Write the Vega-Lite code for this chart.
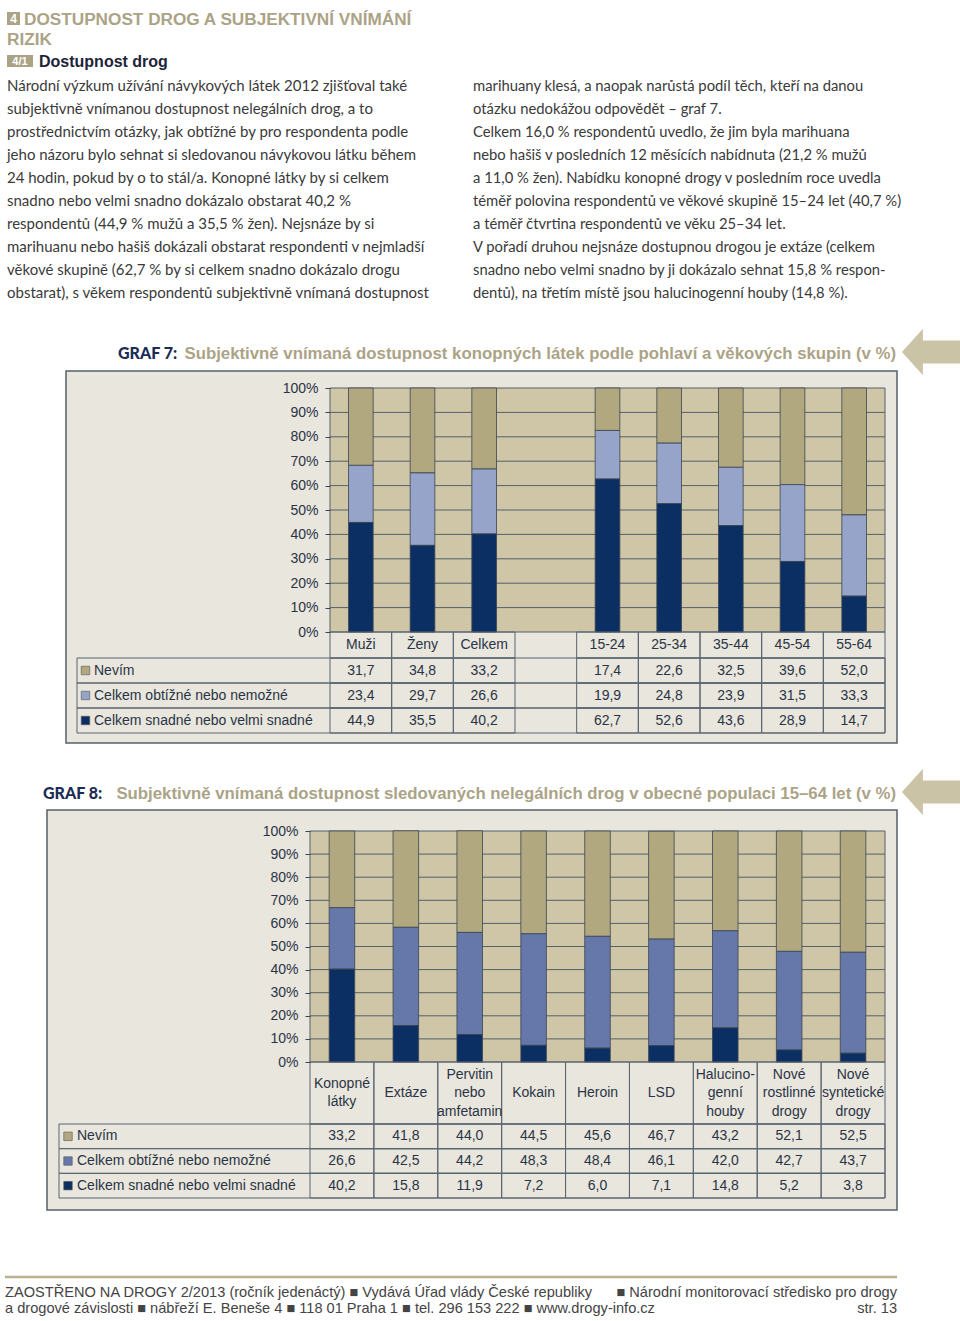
{
  "$schema": "https://vega.github.io/schema/vega-lite/v6.json",
  "width": 960,
  "height": 1321,
  "autosize": {"type": "none"},
  "padding": 0,
  "background": "white",
  "config": {
    "view": {"stroke": null},
    "locale": {"number": {"decimal": ",", "thousands": " ", "grouping": [3], "currency": ["", " Kč"]}}
  },
  "datasets": {
    "g7": [
      {"cat": "Muži", "serie": "Nevím", "value": 31.7},
      {"cat": "Muži", "serie": "Celkem obtížné nebo nemožné", "value": 23.4},
      {"cat": "Muži", "serie": "Celkem snadné nebo velmi snadné", "value": 44.9},
      {"cat": "Ženy", "serie": "Nevím", "value": 34.8},
      {"cat": "Ženy", "serie": "Celkem obtížné nebo nemožné", "value": 29.7},
      {"cat": "Ženy", "serie": "Celkem snadné nebo velmi snadné", "value": 35.5},
      {"cat": "Celkem", "serie": "Nevím", "value": 33.2},
      {"cat": "Celkem", "serie": "Celkem obtížné nebo nemožné", "value": 26.6},
      {"cat": "Celkem", "serie": "Celkem snadné nebo velmi snadné", "value": 40.2},
      {"cat": "15-24", "serie": "Nevím", "value": 17.4},
      {"cat": "15-24", "serie": "Celkem obtížné nebo nemožné", "value": 19.9},
      {"cat": "15-24", "serie": "Celkem snadné nebo velmi snadné", "value": 62.7},
      {"cat": "25-34", "serie": "Nevím", "value": 22.6},
      {"cat": "25-34", "serie": "Celkem obtížné nebo nemožné", "value": 24.8},
      {"cat": "25-34", "serie": "Celkem snadné nebo velmi snadné", "value": 52.6},
      {"cat": "35-44", "serie": "Nevím", "value": 32.5},
      {"cat": "35-44", "serie": "Celkem obtížné nebo nemožné", "value": 23.9},
      {"cat": "35-44", "serie": "Celkem snadné nebo velmi snadné", "value": 43.6},
      {"cat": "45-54", "serie": "Nevím", "value": 39.6},
      {"cat": "45-54", "serie": "Celkem obtížné nebo nemožné", "value": 31.5},
      {"cat": "45-54", "serie": "Celkem snadné nebo velmi snadné", "value": 28.9},
      {"cat": "55-64", "serie": "Nevím", "value": 52.0},
      {"cat": "55-64", "serie": "Celkem obtížné nebo nemožné", "value": 33.3},
      {"cat": "55-64", "serie": "Celkem snadné nebo velmi snadné", "value": 14.7}
    ],
    "g8": [
      {"cat": "Konopné\nlátky", "serie": "Nevím", "value": 33.2},
      {"cat": "Konopné\nlátky", "serie": "Celkem obtížné nebo nemožné", "value": 26.6},
      {"cat": "Konopné\nlátky", "serie": "Celkem snadné nebo velmi snadné", "value": 40.2},
      {"cat": "Extáze", "serie": "Nevím", "value": 41.8},
      {"cat": "Extáze", "serie": "Celkem obtížné nebo nemožné", "value": 42.5},
      {"cat": "Extáze", "serie": "Celkem snadné nebo velmi snadné", "value": 15.8},
      {"cat": "Pervitin\nnebo\namfetamin", "serie": "Nevím", "value": 44.0},
      {"cat": "Pervitin\nnebo\namfetamin", "serie": "Celkem obtížné nebo nemožné", "value": 44.2},
      {"cat": "Pervitin\nnebo\namfetamin", "serie": "Celkem snadné nebo velmi snadné", "value": 11.9},
      {"cat": "Kokain", "serie": "Nevím", "value": 44.5},
      {"cat": "Kokain", "serie": "Celkem obtížné nebo nemožné", "value": 48.3},
      {"cat": "Kokain", "serie": "Celkem snadné nebo velmi snadné", "value": 7.2},
      {"cat": "Heroin", "serie": "Nevím", "value": 45.6},
      {"cat": "Heroin", "serie": "Celkem obtížné nebo nemožné", "value": 48.4},
      {"cat": "Heroin", "serie": "Celkem snadné nebo velmi snadné", "value": 6.0},
      {"cat": "LSD", "serie": "Nevím", "value": 46.7},
      {"cat": "LSD", "serie": "Celkem obtížné nebo nemožné", "value": 46.1},
      {"cat": "LSD", "serie": "Celkem snadné nebo velmi snadné", "value": 7.1},
      {"cat": "Halucino-\ngenní\nhouby", "serie": "Nevím", "value": 43.2},
      {"cat": "Halucino-\ngenní\nhouby", "serie": "Celkem obtížné nebo nemožné", "value": 42.0},
      {"cat": "Halucino-\ngenní\nhouby", "serie": "Celkem snadné nebo velmi snadné", "value": 14.8},
      {"cat": "Nové\nrostlinné\ndrogy", "serie": "Nevím", "value": 52.1},
      {"cat": "Nové\nrostlinné\ndrogy", "serie": "Celkem obtížné nebo nemožné", "value": 42.7},
      {"cat": "Nové\nrostlinné\ndrogy", "serie": "Celkem snadné nebo velmi snadné", "value": 5.2},
      {"cat": "Nové\nsyntetické\ndrogy", "serie": "Nevím", "value": 52.5},
      {"cat": "Nové\nsyntetické\ndrogy", "serie": "Celkem obtížné nebo nemožné", "value": 43.7},
      {"cat": "Nové\nsyntetické\ndrogy", "serie": "Celkem snadné nebo velmi snadné", "value": 3.8}
    ]
  },
  "resolve": {"scale": {"x": "independent", "y": "independent", "color": "independent"}},
  "layer": [
    {
      "encoding": {
        "x": {"datum": 0, "type": "quantitative", "scale": {"domain": [0, 1], "range": [0, 960]}, "axis": null},
        "y": {"datum": 0, "type": "quantitative", "scale": {"domain": [0, 1], "range": [0, 1321]}, "axis": null}
      },
      "layer": [
        {"data": {"values": [{"t": "4"}]}, "mark": {"type": "point", "shape": "square", "filled": true, "size": 169, "color": "#aba386", "opacity": 1, "xOffset": 13.5, "yOffset": 18.5}},
        {"data": {"values": [{"t": "4"}]}, "mark": {"type": "text", "align": "center", "baseline": "middle", "dx": 13.5, "dy": 19, "font": "Liberation Sans", "fontSize": 12, "fontWeight": "bold", "color": "white"}, "encoding": {"text": {"field": "t"}}},
        {"data": {"values": [{"t": "DOSTUPNOST DROG A SUBJEKTIVNÍ VNÍMÁNÍ"}]}, "mark": {"type": "text", "align": "left", "baseline": "alphabetic", "dx": 24, "dy": 25, "font": "Liberation Sans", "fontSize": 17.2, "fontWeight": "bold", "color": "#aba386"}, "encoding": {"text": {"field": "t"}}},
        {"data": {"values": [{"t": "RIZIK"}]}, "mark": {"type": "text", "align": "left", "baseline": "alphabetic", "dx": 7, "dy": 45, "font": "Liberation Sans", "fontSize": 17.2, "fontWeight": "bold", "color": "#aba386"}, "encoding": {"text": {"field": "t"}}},
        {"data": {"values": [{"t": "4/1"}]}, "mark": {"type": "point", "shape": "M-1,-0.46H1V0.46H-1Z", "filled": true, "size": 676, "color": "#aba386", "opacity": 1, "xOffset": 20, "yOffset": 61}},
        {"data": {"values": [{"t": "4/1"}]}, "mark": {"type": "text", "align": "center", "baseline": "middle", "dx": 20, "dy": 61.5, "font": "Liberation Sans", "fontSize": 11, "fontWeight": "bold", "color": "white"}, "encoding": {"text": {"field": "t"}}},
        {"data": {"values": [{"t": "Dostupnost drog"}]}, "mark": {"type": "text", "align": "left", "baseline": "alphabetic", "dx": 39, "dy": 67, "font": "Liberation Sans", "fontSize": 16, "fontWeight": "bold", "color": "#1d2438"}, "encoding": {"text": {"field": "t"}}},
        {"data": {"values": [{"t": "Národní výzkum užívání návykových látek 2012 zjišťoval také\nsubjektivně vnímanou dostupnost nelegálních drog, a to\nprostřednictvím otázky, jak obtížné by pro respondenta podle\njeho názoru bylo sehnat si sledovanou návykovou látku během\n24 hodin, pokud by o to stál/a. Konopné látky by si celkem\nsnadno nebo velmi snadno dokázalo obstarat 40,2 %\nrespondentů (44,9 % mužů a 35,5 % žen). Nejsnáze by si\nmarihuanu nebo hašiš dokázali obstarat respondenti v nejmladší\nvěkové skupině (62,7 % by si celkem snadno dokázalo drogu\nobstarat), s věkem respondentů subjektivně vnímaná dostupnost"}]}, "mark": {"type": "text", "align": "left", "baseline": "alphabetic", "dx": 7, "dy": 90.5, "lineBreak": "\n", "lineHeight": 23.1, "font": "Lato", "fontSize": 15, "color": "#3a3a3a"}, "encoding": {"text": {"field": "t"}}},
        {"data": {"values": [{"t": "marihuany klesá, a naopak narůstá podíl těch, kteří na danou\notázku nedokážou odpovědět – graf 7.\nCelkem 16,0 % respondentů uvedlo, že jim byla marihuana\nnebo hašiš v posledních 12 měsících nabídnuta (21,2 % mužů\na 11,0 % žen). Nabídku konopné drogy v posledním roce uvedla\ntéměř polovina respondentů ve věkové skupině 15–24 let (40,7 %)\na téměř čtvrtina respondentů ve věku 25–34 let.\nV pořadí druhou nejsnáze dostupnou drogou je extáze (celkem\nsnadno nebo velmi snadno by ji dokázalo sehnat 15,8 % respon-\ndentů), na třetím místě jsou halucinogenní houby (14,8 %)."}]}, "mark": {"type": "text", "align": "left", "baseline": "alphabetic", "dx": 473, "dy": 90.5, "lineBreak": "\n", "lineHeight": 23.1, "font": "Lato", "fontSize": 14.8, "color": "#3a3a3a"}, "encoding": {"text": {"field": "t"}}},
        {"data": {"values": [{"t": "GRAF 7:"}]}, "mark": {"type": "text", "align": "left", "baseline": "alphabetic", "dx": 118, "dy": 359, "font": "Lato", "fontSize": 16, "fontWeight": 900, "color": "#1b2c55"}, "encoding": {"text": {"field": "t"}}},
        {"data": {"values": [{"t": "Subjektivně vnímaná dostupnost konopných látek podle pohlaví a věkových skupin (v %)"}]}, "mark": {"type": "text", "align": "right", "baseline": "alphabetic", "dx": 896, "dy": 359, "font": "Liberation Sans", "fontSize": 16.8, "fontWeight": "bold", "color": "#aba386"}, "encoding": {"text": {"field": "t"}}},
        {"data": {"values": [{"t": "arrow7"}]}, "mark": {"type": "point", "shape": "M-1,0L-0.28,-0.8L-0.28,-0.4L1,-0.4L1,0.4L-0.28,0.4L-0.28,0.8Z", "filled": true, "size": 3364, "color": "#cbc3a5", "opacity": 1, "xOffset": 931, "yOffset": 352}},
        {"data": {"values": [{"t": "GRAF 8:"}]}, "mark": {"type": "text", "align": "left", "baseline": "alphabetic", "dx": 43, "dy": 799, "font": "Lato", "fontSize": 16, "fontWeight": 900, "color": "#1b2c55"}, "encoding": {"text": {"field": "t"}}},
        {"data": {"values": [{"t": "Subjektivně vnímaná dostupnost sledovaných nelegálních drog v obecné populaci 15–64 let (v %)"}]}, "mark": {"type": "text", "align": "right", "baseline": "alphabetic", "dx": 896, "dy": 799, "font": "Liberation Sans", "fontSize": 16.8, "fontWeight": "bold", "color": "#aba386"}, "encoding": {"text": {"field": "t"}}},
        {"data": {"values": [{"t": "arrow8"}]}, "mark": {"type": "point", "shape": "M-1,0L-0.28,-0.8L-0.28,-0.4L1,-0.4L1,0.4L-0.28,0.4L-0.28,0.8Z", "filled": true, "size": 3364, "color": "#cbc3a5", "opacity": 1, "xOffset": 931, "yOffset": 792}},
        {"data": {"values": [{"t": "ZAOSTŘENO NA DROGY 2/2013 (ročník jedenáctý)  ■  Vydává Úřad vlády České republiky"}]}, "mark": {"type": "text", "align": "left", "baseline": "alphabetic", "dx": 5, "dy": 1297, "font": "Liberation Sans", "fontSize": 14.6, "color": "#444444"}, "encoding": {"text": {"field": "t"}}},
        {"data": {"values": [{"t": "■  Národní monitorovací středisko pro drogy"}]}, "mark": {"type": "text", "align": "right", "baseline": "alphabetic", "dx": 897, "dy": 1297, "font": "Liberation Sans", "fontSize": 14.6, "color": "#444444"}, "encoding": {"text": {"field": "t"}}},
        {"data": {"values": [{"t": "a drogové závislosti  ■  nábřeží E. Beneše 4  ■  118 01 Praha 1  ■  tel. 296 153 222  ■  www.drogy-info.cz"}]}, "mark": {"type": "text", "align": "left", "baseline": "alphabetic", "dx": 5, "dy": 1313, "font": "Liberation Sans", "fontSize": 14.6, "color": "#444444"}, "encoding": {"text": {"field": "t"}}},
        {"data": {"values": [{"t": "str. 13"}]}, "mark": {"type": "text", "align": "right", "baseline": "alphabetic", "dx": 897, "dy": 1313, "font": "Liberation Sans", "fontSize": 14.6, "color": "#444444"}, "encoding": {"text": {"field": "t"}}}
      ]
    },
    {
      "data": {"values": [{"t": "line"}]},
      "mark": {"type": "rule", "color": "#b9b08f", "strokeWidth": 2.5},
      "encoding": {
        "x": {"datum": 0, "type": "quantitative", "scale": {"domain": [0, 1], "range": [5, 897]}, "axis": null},
        "x2": {"datum": 1},
        "y": {"datum": 0, "type": "quantitative", "scale": {"domain": [0, 1], "range": [1277, 1278]}, "axis": null}
      }
    },
    {
      "resolve": {"scale": {"x": "independent", "y": "independent"}},
      "layer": [
        {
          "data": {"values": [{"t": "frame"}]},
          "mark": {"type": "rect", "fill": "#e9e6dd", "stroke": "#55606b", "strokeWidth": 1.5},
          "encoding": {
            "x": {"datum": 0, "type": "quantitative", "scale": {"domain": [0, 1], "range": [66, 897]}, "axis": null},
            "x2": {"datum": 1},
            "y": {"datum": 0, "type": "quantitative", "scale": {"domain": [0, 1], "range": [371, 743]}, "axis": null},
            "y2": {"datum": 1}
          }
        },
        {
          "encoding": {
            "x": {"datum": 0, "type": "quantitative", "scale": {"domain": [0, 1], "range": [330, 885]}, "axis": null}
          },
          "layer": [
            {
              "data": {"values": [{"lo": 0, "hi": 100}]},
              "mark": {"type": "rect", "fill": "#cec6a6", "stroke": "#56606a", "strokeWidth": 1},
              "encoding": {
                "x2": {"datum": 1},
                "y": {"field": "lo", "type": "quantitative", "scale": {"domain": [0, 100], "range": [632, 388]}, "axis": null},
                "y2": {"field": "hi"}
              }
            },
            {
              "data": {"values": [{"p": 10}, {"p": 20}, {"p": 30}, {"p": 40}, {"p": 50}, {"p": 60}, {"p": 70}, {"p": 80}, {"p": 90}]},
              "mark": {"type": "rule", "color": "#56606a", "strokeWidth": 1},
              "encoding": {
                "x2": {"datum": 1},
                "y": {"field": "p", "type": "quantitative", "scale": {"domain": [0, 100], "range": [632, 388]}, "axis": null}
              }
            }
          ]
        },
        {
          "data": {"name": "g7"},
          "transform": [{"calculate": "indexof(['Celkem snadné nebo velmi snadné','Celkem obtížné nebo nemožné','Nevím'], datum.serie)", "as": "rank"}],
          "mark": {"type": "bar", "width": {"band": 0.4}, "stroke": "#3b4552", "strokeWidth": 0.8},
          "encoding": {
            "x": {"field": "cat", "type": "nominal", "sort": null, "scale": {"domain": ["Muži", "Ženy", "Celkem", " ", "15-24", "25-34", "35-44", "45-54", "55-64"], "range": [330, 885], "paddingInner": 0, "paddingOuter": 0}, "axis": null},
            "y": {"field": "value", "type": "quantitative", "stack": "zero", "scale": {"domain": [0, 100], "range": [632, 388]},
              "axis": {"orient": "left", "offset": -330, "values": [0, 10, 20, 30, 40, 50, 60, 70, 80, 90, 100], "labelExpr": "datum.value + '%'", "tickSize": 5, "labelPadding": 7, "domain": false, "grid": false, "title": null, "labelFont": "Liberation Sans", "labelFontSize": 14, "labelColor": "#2a3446", "tickColor": "#3b4552", "zindex": 1}},
            "color": {"field": "serie", "type": "nominal", "scale": {"domain": ["Nevím", "Celkem obtížné nebo nemožné", "Celkem snadné nebo velmi snadné"], "range": ["#b2a87f", "#95a4c8", "#0b2e63"]}, "legend": null},
            "order": {"field": "rank", "type": "quantitative"}
          }
        },
        {
          "data": {"name": "g7"},
          "transform": [{"aggregate": [{"op": "count", "as": "n"}], "groupby": ["serie"]}],
          "encoding": {
            "x": {"datum": 0, "type": "quantitative", "scale": {"domain": [0, 1], "range": [77, 885]}, "axis": null},
            "y": {"field": "serie", "type": "nominal", "scale": {"domain": ["Nevím", "Celkem obtížné nebo nemožné", "Celkem snadné nebo velmi snadné"], "range": [658, 733], "paddingInner": 0, "paddingOuter": 0}, "axis": null}
          },
          "layer": [
            {"mark": {"type": "rect", "fillOpacity": 0, "stroke": "#5a6570", "strokeWidth": 1}, "encoding": {"x2": {"datum": 1}}},
            {"mark": {"type": "point", "shape": "square", "filled": true, "size": 72, "xOffset": 8.5, "stroke": "#555555", "strokeWidth": 0.6, "opacity": 1}, "encoding": {"color": {"field": "serie", "type": "nominal", "legend": null}}},
            {"mark": {"type": "text", "align": "left", "baseline": "middle", "dx": 17, "font": "Liberation Sans", "fontSize": 14, "color": "#2a3446"}, "encoding": {"text": {"field": "serie"}}}
          ]
        },
        {
          "data": {"name": "g7"},
          "transform": [{"aggregate": [{"op": "count", "as": "n"}], "groupby": ["cat"]}],
          "encoding": {
            "x": {"field": "cat", "type": "nominal", "sort": null, "scale": {"domain": ["Muži", "Ženy", "Celkem", " ", "15-24", "25-34", "35-44", "45-54", "55-64"], "range": [330, 885], "paddingInner": 0, "paddingOuter": 0}, "axis": null}
          },
          "layer": [
            {"mark": {"type": "rect", "fillOpacity": 0, "stroke": "#5a6570", "strokeWidth": 1},
             "encoding": {"y": {"datum": 0, "type": "quantitative", "scale": {"domain": [0, 1], "range": [632, 658]}, "axis": null}, "y2": {"datum": 1}}},
            {"mark": {"type": "text", "align": "center", "baseline": "middle", "font": "Liberation Sans", "fontSize": 14, "color": "#2a3446"},
             "encoding": {"y": {"datum": 0.5, "type": "quantitative", "scale": {"domain": [0, 1], "range": [632, 658]}, "axis": null}, "text": {"field": "cat"}}}
          ]
        },
        {
          "data": {"name": "g7"},
          "encoding": {
            "x": {"field": "cat", "type": "nominal", "sort": null, "scale": {"domain": ["Muži", "Ženy", "Celkem", " ", "15-24", "25-34", "35-44", "45-54", "55-64"], "range": [330, 885], "paddingInner": 0, "paddingOuter": 0}, "axis": null},
            "y": {"field": "serie", "type": "nominal", "scale": {"domain": ["Nevím", "Celkem obtížné nebo nemožné", "Celkem snadné nebo velmi snadné"], "range": [658, 733], "paddingInner": 0, "paddingOuter": 0}, "axis": null}
          },
          "layer": [
            {"mark": {"type": "rect", "fillOpacity": 0, "stroke": "#5a6570", "strokeWidth": 1}},
            {"mark": {"type": "text", "align": "center", "baseline": "middle", "font": "Liberation Sans", "fontSize": 14, "color": "#2a3446"}, "encoding": {"text": {"field": "value", "type": "quantitative", "format": ".1f"}}}
          ]
        }
      ]
    },
    {
      "resolve": {"scale": {"x": "independent", "y": "independent"}},
      "layer": [
        {
          "data": {"values": [{"t": "frame"}]},
          "mark": {"type": "rect", "fill": "#e9e6dd", "stroke": "#55606b", "strokeWidth": 1.5},
          "encoding": {
            "x": {"datum": 0, "type": "quantitative", "scale": {"domain": [0, 1], "range": [47, 897]}, "axis": null},
            "x2": {"datum": 1},
            "y": {"datum": 0, "type": "quantitative", "scale": {"domain": [0, 1], "range": [810, 1210]}, "axis": null},
            "y2": {"datum": 1}
          }
        },
        {
          "encoding": {
            "x": {"datum": 0, "type": "quantitative", "scale": {"domain": [0, 1], "range": [310, 885]}, "axis": null}
          },
          "layer": [
            {
              "data": {"values": [{"lo": 0, "hi": 100}]},
              "mark": {"type": "rect", "fill": "#cec6a6", "stroke": "#56606a", "strokeWidth": 1},
              "encoding": {
                "x2": {"datum": 1},
                "y": {"field": "lo", "type": "quantitative", "scale": {"domain": [0, 100], "range": [1062, 831]}, "axis": null},
                "y2": {"field": "hi"}
              }
            },
            {
              "data": {"values": [{"p": 10}, {"p": 20}, {"p": 30}, {"p": 40}, {"p": 50}, {"p": 60}, {"p": 70}, {"p": 80}, {"p": 90}]},
              "mark": {"type": "rule", "color": "#56606a", "strokeWidth": 1},
              "encoding": {
                "x2": {"datum": 1},
                "y": {"field": "p", "type": "quantitative", "scale": {"domain": [0, 100], "range": [1062, 831]}, "axis": null}
              }
            }
          ]
        },
        {
          "data": {"name": "g8"},
          "transform": [{"calculate": "indexof(['Celkem snadné nebo velmi snadné','Celkem obtížné nebo nemožné','Nevím'], datum.serie)", "as": "rank"}],
          "mark": {"type": "bar", "width": {"band": 0.4}, "stroke": "#3b4552", "strokeWidth": 0.8},
          "encoding": {
            "x": {"field": "cat", "type": "nominal", "sort": null, "scale": {"domain": ["Konopné\nlátky", "Extáze", "Pervitin\nnebo\namfetamin", "Kokain", "Heroin", "LSD", "Halucino-\ngenní\nhouby", "Nové\nrostlinné\ndrogy", "Nové\nsyntetické\ndrogy"], "range": [310, 885], "paddingInner": 0, "paddingOuter": 0}, "axis": null},
            "y": {"field": "value", "type": "quantitative", "stack": "zero", "scale": {"domain": [0, 100], "range": [1062, 831]},
              "axis": {"orient": "left", "offset": -310, "values": [0, 10, 20, 30, 40, 50, 60, 70, 80, 90, 100], "labelExpr": "datum.value + '%'", "tickSize": 5, "labelPadding": 7, "domain": false, "grid": false, "title": null, "labelFont": "Liberation Sans", "labelFontSize": 14, "labelColor": "#2a3446", "tickColor": "#3b4552", "zindex": 1}},
            "color": {"field": "serie", "type": "nominal", "scale": {"domain": ["Nevím", "Celkem obtížné nebo nemožné", "Celkem snadné nebo velmi snadné"], "range": ["#b2a87f", "#6678a9", "#0b2e63"]}, "legend": null},
            "order": {"field": "rank", "type": "quantitative"}
          }
        },
        {
          "data": {"name": "g8"},
          "transform": [{"aggregate": [{"op": "count", "as": "n"}], "groupby": ["serie"]}],
          "encoding": {
            "x": {"datum": 0, "type": "quantitative", "scale": {"domain": [0, 1], "range": [59, 885]}, "axis": null},
            "y": {"field": "serie", "type": "nominal", "scale": {"domain": ["Nevím", "Celkem obtížné nebo nemožné", "Celkem snadné nebo velmi snadné"], "range": [1124, 1198], "paddingInner": 0, "paddingOuter": 0}, "axis": null}
          },
          "layer": [
            {"mark": {"type": "rect", "fillOpacity": 0, "stroke": "#5a6570", "strokeWidth": 1}, "encoding": {"x2": {"datum": 1}}},
            {"mark": {"type": "point", "shape": "square", "filled": true, "size": 72, "xOffset": 9, "stroke": "#555555", "strokeWidth": 0.6, "opacity": 1}, "encoding": {"color": {"field": "serie", "type": "nominal", "legend": null}}},
            {"mark": {"type": "text", "align": "left", "baseline": "middle", "dx": 18, "font": "Liberation Sans", "fontSize": 14, "color": "#2a3446"}, "encoding": {"text": {"field": "serie"}}}
          ]
        },
        {
          "data": {"name": "g8"},
          "transform": [
            {"aggregate": [{"op": "count", "as": "n"}], "groupby": ["cat"]},
            {"calculate": "length(split(datum.cat, '\\n'))", "as": "lines"}
          ],
          "encoding": {
            "x": {"field": "cat", "type": "nominal", "sort": null, "scale": {"domain": ["Konopné\nlátky", "Extáze", "Pervitin\nnebo\namfetamin", "Kokain", "Heroin", "LSD", "Halucino-\ngenní\nhouby", "Nové\nrostlinné\ndrogy", "Nové\nsyntetické\ndrogy"], "range": [310, 885], "paddingInner": 0, "paddingOuter": 0}, "axis": null},
            "y": {"datum": 0.5, "type": "quantitative", "scale": {"domain": [0, 1], "range": [1062, 1124]}, "axis": null}
          },
          "layer": [
            {"mark": {"type": "rect", "fillOpacity": 0, "stroke": "#5a6570", "strokeWidth": 1},
             "encoding": {"y": {"datum": 0, "type": "quantitative", "scale": {"domain": [0, 1], "range": [1062, 1124]}, "axis": null}, "y2": {"datum": 1}}},
            {"transform": [{"filter": "datum.lines == 1"}],
             "mark": {"type": "text", "align": "center", "baseline": "middle", "font": "Liberation Sans", "fontSize": 14, "color": "#2a3446", "lineBreak": "\n", "lineHeight": 18.5},
             "encoding": {"text": {"field": "cat"}}},
            {"transform": [{"filter": "datum.lines == 2"}],
             "mark": {"type": "text", "align": "center", "baseline": "middle", "dy": -9.25, "font": "Liberation Sans", "fontSize": 14, "color": "#2a3446", "lineBreak": "\n", "lineHeight": 18.5},
             "encoding": {"text": {"field": "cat"}}},
            {"transform": [{"filter": "datum.lines == 3"}],
             "mark": {"type": "text", "align": "center", "baseline": "middle", "dy": -18.5, "font": "Liberation Sans", "fontSize": 14, "color": "#2a3446", "lineBreak": "\n", "lineHeight": 18.5},
             "encoding": {"text": {"field": "cat"}}}
          ]
        },
        {
          "data": {"name": "g8"},
          "encoding": {
            "x": {"field": "cat", "type": "nominal", "sort": null, "scale": {"domain": ["Konopné\nlátky", "Extáze", "Pervitin\nnebo\namfetamin", "Kokain", "Heroin", "LSD", "Halucino-\ngenní\nhouby", "Nové\nrostlinné\ndrogy", "Nové\nsyntetické\ndrogy"], "range": [310, 885], "paddingInner": 0, "paddingOuter": 0}, "axis": null},
            "y": {"field": "serie", "type": "nominal", "scale": {"domain": ["Nevím", "Celkem obtížné nebo nemožné", "Celkem snadné nebo velmi snadné"], "range": [1124, 1198], "paddingInner": 0, "paddingOuter": 0}, "axis": null}
          },
          "layer": [
            {"mark": {"type": "rect", "fillOpacity": 0, "stroke": "#5a6570", "strokeWidth": 1}},
            {"mark": {"type": "text", "align": "center", "baseline": "middle", "font": "Liberation Sans", "fontSize": 14, "color": "#2a3446"}, "encoding": {"text": {"field": "value", "type": "quantitative", "format": ".1f"}}}
          ]
        }
      ]
    }
  ]
}
